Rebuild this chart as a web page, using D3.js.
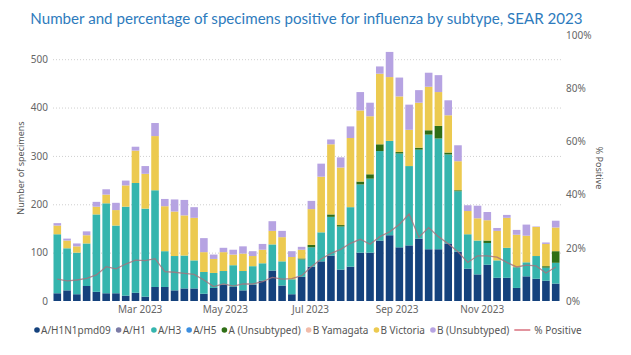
<!DOCTYPE html>
<html><head><meta charset="utf-8">
<script src="https://cdn.jsdelivr.net/npm/d3@7"></script>
<style>
html,body{margin:0;padding:0;background:#fff;}
text{font-family:"Segoe UI","Noto Sans","Open Sans",sans-serif;}
</style></head>
<body><svg id="c" width="631" height="355"></svg>
<script>
const weeks = [1,2,3,4,5,6,7,8,9,10,11,12,13,14,15,16,17,18,19,20,21,22,23,24,25,26,27,28,29,30,31,32,33,34,35,36,37,38,39,40,41,42,43,44,45,46,47,48,49,50,51,52];
const h1n1 = [16,22,14,31,19,16,16,11,17,9,29,29,22,26,26,15,27,34,29,22,34,42,63,32,14,50,71,82,94,65,71,100,100,125,136,111,115,129,107,107,119,102,67,55,75,48,48,27,51,46,42,36];
const h3   = [122,87,86,88,160,186,140,184,227,182,200,74,71,68,58,45,31,28,45,40,38,36,54,50,31,36,40,60,80,89,123,141,153,185,195,194,164,184,237,229,184,125,71,70,45,36,62,43,29,47,27,43];
const aUns = [0,0,0,0,0,0,0,0,0,0,0,0,0,0,0,0,0,0,0,0,0,0,0,0,0,2,5,0,5,3,0,6,9,14,0,3,0,4,9,26,4,2,0,0,5,0,0,0,0,0,3,24];
const bVic = [18,16,13,17,16,18,32,44,67,72,112,93,92,83,88,41,29,39,22,36,21,28,28,50,46,18,74,115,145,119,143,147,120,146,132,115,75,93,90,70,77,60,48,46,42,61,62,67,55,60,46,49];
const bUns = [5,4,6,8,10,11,15,10,8,16,27,15,25,32,22,29,9,9,10,15,10,12,20,13,12,6,17,27,10,21,24,38,28,15,52,39,52,26,29,35,31,33,12,26,17,6,6,10,23,1,3,14];
const pctPos = [8.2,7.6,7.9,8.5,9.8,12.9,12.1,13.9,15.4,15.2,15.9,11.0,10.8,10.4,10.0,7.9,5.4,6.4,5.6,6.4,6.4,7.3,8.9,8.2,8.4,9.5,12.9,15.8,17.9,19.4,21.7,23.2,21.3,24.2,26.0,28.8,32.7,24.0,27.6,24.2,21.5,18.5,14.5,17.0,17.0,16.5,14.5,12.8,13.5,13.2,10.5,12.8];
const leftTicks = [0,100,200,300,400,500];
const rightTicks = [0,0.2,0.4,0.6,0.8,1.0];
const monthTicks = ["2023-03-01","2023-05-01","2023-07-01","2023-09-01","2023-11-01"];
const legendNames = ["A/H1N1pmd09","A/H1","A/H3","A/H5","A (Unsubtyped)","B Yamagata","B Victoria","B (Unsubtyped)"];
const legendColors = ["#15427d","#7b7ba6","#35b5ae","#3d8fe0","#2f6f16","#f2bcaa","#ecca50","#b6a3e2"];
const titleText = "Number and percentage of specimens positive for influenza by subtype, SEAR 2023";

const svg = d3.select("#c");
const start = new Date(2023,0,1);
const weekDate = w => d3.timeDay.offset(start, 7*(w-1));
const x = d3.scaleTime().domain([weekDate(1), weekDate(52)]).range([57.3, 555.7]);
const y = d3.scaleLinear().domain([0,550]).range([301,35]);
const y2 = d3.scaleLinear().domain([0,1]).range([301,35]);
const barW = 7.6;

// title (fit to reference width)
const title = svg.append("text").attr("x",306.5).attr("y",24).attr("text-anchor","middle")
  .style("font-family","Lato, 'Segoe UI', sans-serif")
  .attr("font-size",16).attr("fill","#2e7bbd").text(titleText);
const tw = title.node().getComputedTextLength();
title.attr("font-size", Math.min(17, 16*553/tw));

// gridlines
svg.append("g").selectAll("line").data(leftTicks.filter(d=>d>0)).join("line")
  .attr("x1",53).attr("x2",561).attr("y1",d=>y(d)+0.5).attr("y2",d=>y(d)+0.5)
  .attr("stroke","#cfcfcf").attr("stroke-width",1).attr("stroke-dasharray","1,2");

// left axis
const gL = svg.append("g").attr("transform","translate(48,0)")
  .call(d3.axisLeft(y).tickValues(leftTicks).tickSize(0).tickPadding(0));
gL.select(".domain").remove();
gL.selectAll("text").attr("font-size",10).attr("fill","#666").attr("font-family",null);

// right axis
const gR = svg.append("g").attr("transform","translate(566,0)")
  .call(d3.axisRight(y2).tickValues(rightTicks).tickFormat(d3.format(".0%")).tickSize(0).tickPadding(0));
gR.select(".domain").remove();
gR.selectAll("text").attr("font-size",10).attr("fill","#666").attr("font-family",null);

// x axis
const gX = svg.append("g").attr("transform","translate(0,306)")
  .call(d3.axisBottom(x).tickValues(monthTicks.map(d=>d3.timeParse("%Y-%m-%d")(d))).tickFormat(d3.timeFormat("%b %Y")).tickSize(0).tickPadding(0));
gX.select(".domain").remove();
gX.selectAll("text").attr("font-size",10).attr("fill","#666").attr("font-family",null);

// axis titles
svg.append("text").attr("transform","translate(24,168) rotate(-90)").attr("text-anchor","middle")
  .attr("font-size",9).attr("fill","#555").text("Number of specimens");
svg.append("text").attr("transform","translate(596,168) rotate(90)").attr("text-anchor","middle")
  .attr("font-size",9).attr("fill","#555").text("% Positive");

// stacked bars
const rows = weeks.map((w,i)=>({w, h1n1:h1n1[i], h3:h3[i], aUns:aUns[i], bVic:bVic[i], bUns:bUns[i]}));
const keys = ["h1n1","h3","aUns","bVic","bUns"];
const keyColors = {h1n1:legendColors[0], h3:legendColors[2], aUns:legendColors[4], bVic:legendColors[6], bUns:legendColors[7]};
const stack = d3.stack().keys(keys)(rows);
svg.append("g").selectAll("g").data(stack).join("g").attr("fill",d=>keyColors[d.key])
  .selectAll("rect").data(d=>d).join("rect")
  .attr("x",d=>x(weekDate(d.data.w))-barW/2).attr("width",barW)
  .attr("y",d=>y(d[1])).attr("height",d=>Math.max(0,y(d[0])-y(d[1])));

// % positive line
const line = d3.line().x((d,i)=>x(weekDate(weeks[i]))).y(d=>y2(d/100));
svg.append("path").datum(pctPos).attr("d",line).attr("fill","none")
  .attr("stroke","#a8707c").attr("stroke-opacity",0.8).attr("stroke-width",1.3);

// legend
const lg = svg.append("g").attr("transform","translate(0,330)");
let lx = 37;
legendNames.forEach((n,i)=>{
  lg.append("circle").attr("cx",lx).attr("cy",0).attr("r",2.8).attr("fill",legendColors[i]);
  const t = lg.append("text").attr("x",lx+4).attr("y",3.5).attr("font-size",10).attr("fill","#555").text(n);
  lx += 4 + t.node().getComputedTextLength() + 8;
});
lg.append("line").attr("x1",lx-3).attr("x2",lx+13).attr("y1",0).attr("y2",0).attr("stroke","#d9707e").attr("stroke-width",1.5);
lg.append("text").attr("x",lx+17).attr("y",3.5).attr("font-size",10).attr("fill","#555").text("% Positive");
</script></body></html>
